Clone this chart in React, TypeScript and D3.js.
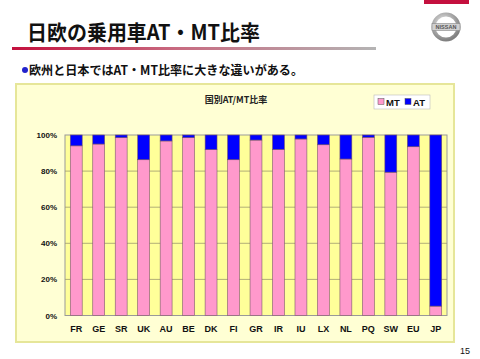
import React from "react";
import * as d3 from "d3";

const countries = ["FR","GE","SR","UK","AU","BE","DK","FI","GR","IR","IU","LX","NL","PQ","SW","EU","JP"];
const mtShare = [94, 95, 98.5, 86.3, 96.7, 98.5, 91.9, 86.3, 97.2, 92, 97.8, 94.6, 86.7, 98.7, 79.4, 93.5, 5.2];
const atShare = mtShare.map((v) => 100 - v);
const yTicks = [0, 20, 40, 60, 80, 100];
const seriesNames = ["MT", "AT"];

const W = 480, H = 359;
const plot = { left: 65, right: 447, top: 135, bottom: 315.5 };

export default function App() {
  const x = d3.scaleBand<string>().domain(countries).range([plot.left, plot.right]).paddingInner(0.47).paddingOuter(0.235);
  const y = d3.scaleLinear().domain([0, 100]).range([plot.bottom, plot.top]);
  const colors = ["#ff99cc", "#0000ff"];
  const stackData = countries.map((c, i) => ({ c, MT: mtShare[i], AT: atShare[i] }));
  const stacked = d3.stack<any>().keys(seriesNames)(stackData);
  const jp = "'Noto Sans CJK JP', sans-serif";
  const lat = "'Liberation Sans', Arial, sans-serif";

  return (
    <svg width={W} height={H} style={{ position: "absolute", left: 0, top: 0, background: "#fff" }}>
      <defs>
        <linearGradient id="ul" x1="0" x2="1" y1="0" y2="0">
          <stop offset="0" stopColor="#c4103e" />
          <stop offset="0.45" stopColor="#c86a80" />
          <stop offset="1" stopColor="#b4b4b4" />
        </linearGradient>
        <radialGradient id="logo" cx="0.4" cy="0.35" r="0.7">
          <stop offset="0" stopColor="#f0f0f0" />
          <stop offset="1" stopColor="#808080" />
        </radialGradient>
      </defs>
      <rect x={424} y={0} width={45} height={4} fill="#c4103e" />
      <circle cx={446} cy={27} r={12.5} fill="none" stroke="url(#logo)" strokeWidth={4} />
      <rect x={432} y={23.5} width={28} height={7} fill="#d0d0d0" stroke="#888" strokeWidth={0.6} />
      <text x={446} y={29.3} textAnchor="middle" fontFamily={lat} fontWeight="bold" fontSize={5.5} fill="#555">NISSAN</text>

      <text x={27} y={40} fontFamily={jp} fontWeight="bold" fontSize={21} fill="#111" textLength={233} lengthAdjust="spacingAndGlyphs">日欧の乗用車AT・MT比率</text>
      <rect x={12} y={47} width={364} height={3} fill="url(#ul)" />

      <circle cx={25} cy={70} r={3} fill="#2222cc" />
      <text x={29} y={74.5} fontFamily={jp} fontWeight="bold" fontSize={12.5} fill="#111" textLength={274} lengthAdjust="spacingAndGlyphs">欧州と日本ではAT・MT比率に大きな違いがある。</text>

      <rect x={16} y={84} width={438} height={258} fill="#ffffd4" stroke="#e6e699" strokeWidth={2} />
      <text x={236} y={103} textAnchor="middle" fontFamily={jp} fontWeight="bold" fontSize={9} fill="#222">国別AT/MT比率</text>

      <rect x={374} y={95} width={56} height={14} fill="#fff" stroke="#bbb" strokeWidth={0.6} />
      {seriesNames.map((s, i) => (
        <g key={s} transform={`translate(${378 + i * 27},0)`}>
          <rect x={0} y={98.5} width={6} height={6} fill={colors[i]} stroke="#555" strokeWidth={0.5} />
          <text x={8} y={105.5} fontFamily={lat} fontWeight="bold" fontSize={9.5} fill="#111">{s}</text>
        </g>
      ))}

      <rect x={plot.left} y={plot.top} width={plot.right - plot.left} height={plot.bottom - plot.top} fill="#ffff99" stroke="#999" strokeWidth={1} />
      {yTicks.filter((t) => t > 0 && t < 100).map((t) => (
        <line key={t} x1={plot.left} x2={plot.right} y1={y(t)} y2={y(t)} stroke="#a09a70" strokeWidth={0.8} />
      ))}
      {yTicks.map((t) => (
        <text key={t} x={57} y={y(t) + 3} textAnchor="end" fontFamily={lat} fontWeight="bold" fontSize={8} fill="#111">{t}%</text>
      ))}

      {stacked.map((layer, li) => (
        <g key={layer.key}>
          {layer.map((d, i) => (
            <rect key={i} x={x(countries[i])!} width={x.bandwidth()} y={y(d[1])} height={y(d[0]) - y(d[1])} fill={colors[li]} stroke="#7a5a6a" strokeWidth={0.6} />
          ))}
        </g>
      ))}

      {countries.map((c) => (
        <text key={c} x={x(c)! + x.bandwidth() / 2} y={332} textAnchor="middle" fontFamily={lat} fontWeight="bold" fontSize={9} fill="#111">{c}</text>
      ))}

      <text x={465} y={354} textAnchor="middle" fontFamily={lat} fontSize={9} fill="#111">15</text>
    </svg>
  );
}
